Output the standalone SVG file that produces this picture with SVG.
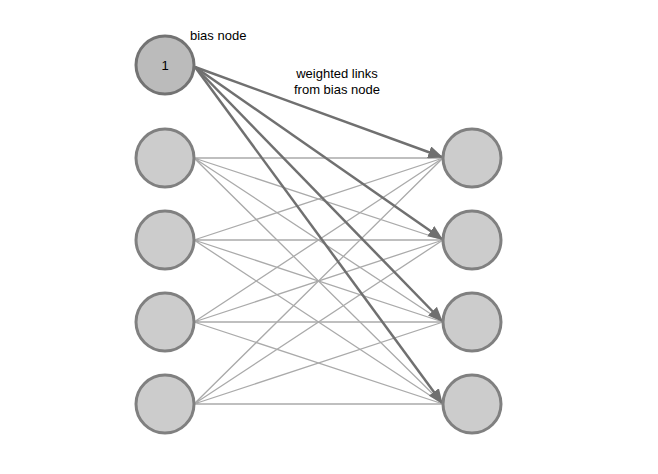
<svg xmlns="http://www.w3.org/2000/svg" width="658" height="474" viewBox="0 0 658 474">
<style>
.n{fill:#cccccc;stroke:#808080;stroke-width:3}
.b{fill:#bbbbbb;stroke:#737373;stroke-width:3}
.l{stroke:#aaaaaa;stroke-width:1.3;fill:none}
.a{stroke:#707070;stroke-width:2.5;fill:none;marker-end:url(#ar)}
text{font-family:"Liberation Sans",Arial,sans-serif;font-size:13px;fill:#000}
</style>
<defs><marker id="ar" markerWidth="6" markerHeight="5" refX="5.5" refY="2.5" orient="auto" markerUnits="strokeWidth"><path d="M0,0L6,2.5L0,5z" fill="#707070"/></marker></defs>
<rect width="658" height="474" fill="#fff"/>
<g id="connectors">
<g id="light">
<path class="l" d="M194,158L443,158M194,158L443,240M194,158L443,322M194,158L443,404"/>
<path class="l" d="M194,240L443,158M194,240L443,240M194,240L443,322M194,240L443,404"/>
<path class="l" d="M194,322L443,158M194,322L443,240M194,322L443,322M194,322L443,404"/>
<path class="l" d="M194,404L443,158M194,404L443,240M194,404L443,322M194,404L443,404"/>
</g>
<path class="a" d="M195,67L442,157"/>
<path class="a" d="M195,67L442,239"/>
<path class="a" d="M195,67L442,321"/>
<path class="a" d="M195,67L442,403"/>
</g>
<g id="bias"><circle class="b" cx="165" cy="65" r="29"/><text x="165" y="70" text-anchor="middle">1</text></g>
<g id="in1"><circle class="n" cx="165" cy="158" r="29"/></g>
<g id="in2"><circle class="n" cx="165" cy="240" r="29"/></g>
<g id="in3"><circle class="n" cx="165" cy="322" r="29"/></g>
<g id="in4"><circle class="n" cx="165" cy="404" r="29"/></g>
<g id="out1"><circle class="n" cx="472" cy="158" r="29"/></g>
<g id="out2"><circle class="n" cx="472" cy="240" r="29"/></g>
<g id="out3"><circle class="n" cx="472" cy="322" r="29"/></g>
<g id="out4"><circle class="n" cx="472" cy="404" r="29"/></g>
<g id="labels">
<text x="190" y="40">bias node</text>
<text x="337" y="78" text-anchor="middle">weighted links</text>
<text x="337" y="94" text-anchor="middle">from bias node</text>
</g>
</svg>
